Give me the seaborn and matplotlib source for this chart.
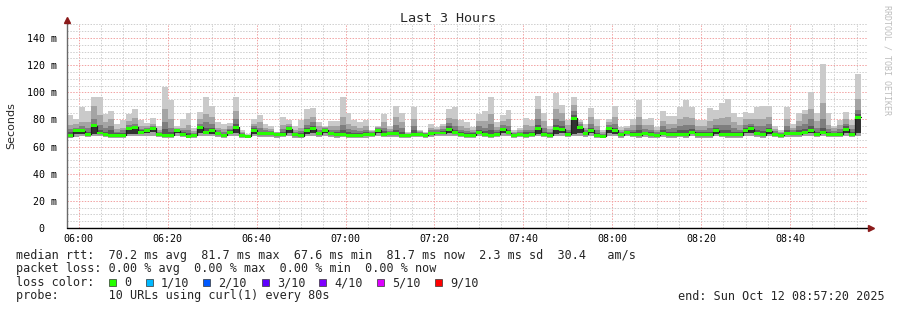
import numpy as np
import pandas as pd
import matplotlib
matplotlib.use("Agg")
import matplotlib.pyplot as plt
from matplotlib.patches import Rectangle
import seaborn as sns

# ---------------- data ----------------
STEP = 80  # seconds per column, window 05:57:20 - 08:57:20
time_labels = ["06:00", "06:20", "06:40", "07:00", "07:20", "07:40", "08:00", "08:20", "08:40"]
y_values = [0, 20, 40, 60, 80, 100, 120, 140]
y_labels = ["0  ", "20 m", "40 m", "60 m", "80 m", "100 m", "120 m", "140 m"]

median = [67.8,71.5,71.5,69,75.2,70,68.9,68.2,68.2,68.2, 73,74.2,70.7,72.2,73.5,69,68.2,68.2,71.7,69,
          67.6,68.5,74.2,70.7,72.2,69.5,68.2,70.7,74.2,68.5, 67.6,72.2,69.3,69.3,69.3,68.7,69,73,68.7,68,
          71.5,73.2,69.5,72.2,69.3,68.7,69,68.2,68.2,68.5, 69,69,72.2,69,69.5,69.5,68.5,68.5,69,69,
          68.5,69.5,70,70,72.7,70.2,69,68.5,68.5,70.5, 69,68.5,69,72.7,70.2,68.5,69,68.5,69,73.5,
          69,68.5,73.5,72.7,69,81,74,69.5,72.2,68.5, 67.6,73.5,72.2,68.8,70.2,69,68.8,69.8,68.8,68.3,
          69.8,68.8,68.8,69.2,68.8,70.5,68.8,68.8,68.8,71.5, 69.2,68.8,68.8,68.8,71.7,73,69.5,68.8,71.5,69.2,
          68.3,69.8,69.5,69.5,70.5,71.5,69.2,70.5,69.2,69.2, 69.2,72.7,69.2,81.7]
ping_max = [83.3,80,89,86,96.5,96.5,84,86,77,79.6, 84,88,79.6,77.6,80.8,75,104,94,75,80,
            84.5,73.5,85.7,96.3,90,78.3,77,77.5,96.3,72.2, 69,80,83.3,77,75,71,81.6,79.6,75,79.6,
            87.4,88.2,78.3,75,78.5,79,96.3,84.5,79.6,78, 79.6,72.5,75,84,75,90,84.5,70.5,89.4,72.2,
            71,77,74.7,77,87.4,89.4,79.6,78,74.7,84, 86.4,96.3,78,83,87,72.2,73.5,80.8,79.6,97.3,
            84.5,75,99.3,90.7,79.6,96.3,79.6,77,88.2,80, 72.2,80,90,74.7,75,80,94.3,80,80.8,74.7,
            86.4,82.4,82.4,89.4,94.3,89.4,79.6,79.6,88.2,87, 92.4,94.8,84.5,81.6,85.7,84.5,88.8,90,90,75,
            72.2,88.8,77,84.5,87,100.5,84.5,121,84.5,75.5, 79.6,85.7,79.6,113.4]
ping_9 = [76,77,78,78,90,83,78,80,73,74, 79,81,75,75,77,72,88,80,74,74,
          76,71.5,80,84,82,74,73,75,86,71, 68.5,77,78,74,73,70.5,76,77,72.5,74,
          80,82,75,74.2,75,75,82,77,75,74, 75,71.5,74.2,78,73,82,78,70,80,71.3,
          70.3,74,73,75,81,80,75,74,72.5,79, 79,84,74.5,79,80,71,72,76,75,88,
          79,73,88,85,76,91,78,74,82,75, 70.5,78,82,72.5,73.5,76,82,76,76,72,
          79,77,77,80,82,81,75,75.5,79,80, 81,82,78,76,80,80,80,80,82,73,
          70.8,80,74,79,84,88,79,92,76,73.5, 76,80,76,95]
ping_8 = [73,74,75,74,80,76,74,75,71,72, 76,77,73,74,75.5,70.5,78,74,73,72,
          72,70,77,78,77,72,71,73,80,70, 68.2,75,74,72,71.5,70,73,75.5,71,71.5,
          76,78,72.5,73.5,72.5,72,76,73,72,71.5, 72,70.5,73.5,74,71.5,76,74,69.5,75,70.5,
          69.8,72,72,73,77.5,75,72,71.5,71,75, 74,77,72,76,75,70,71,72.5,72,80,
          74,71,80,79,72.5,86,76.5,72,77,72, 69.5,76,77,71,72,72.5,76,73,72.5,70.5,
          75,73,73.5,75,76,76,72,72.5,74,76, 76,76,73.5,72.5,76,77,75,75,77,71.5,
          69.8,75,72,75,77,80,74,80,73,71.5, 73,77,73,87]
ping_7 = [71,73,73,71,77,72,71,72,70,70, 74,75.5,72,73,74.5,69.8,73,71,72.5,70.5,
          70,69.3,75.5,74,74,70.5,69.5,72,77,69.3, 68,73.5,71,70.5,70.5,69.3,71,74,69.8,69.8,
          73.5,75,71,72.8,71,70.5,72,70.5,70,70, 70.5,69.8,73,71.5,70.5,72.5,71,69,72,69.8,
          69.2,71,71,71.5,75,72.5,70.5,70,69.8,72.5, 71.5,72,70.5,74,72.5,69.2,70,70.5,70.5,76,
          71,69.8,76,75,70.5,83,75,70.5,74,70, 68.5,74.5,74,69.8,71,70.5,72,71,70.5,69.3,
          72,70.5,71,72,72,73,70.5,70.5,71,73.5, 72,72,71,70.5,73.5,75,72,71.5,74,70.3,
          69,72,70.5,72,73,75,71,74,71,70.3, 71,75,71,84]
ping_5 = [66.8,69,69,68,69,69,68,67.2,67.2,67.2, 69.5,69.5,69.5,70,70.5,68,67.2,67.2,70,68,
          66.8,67.5,70,69.5,69.5,68.5,67.2,69.5,70,67.5, 66.8,69.5,68.3,68.3,68.3,67.7,68,70,67.7,67,
          69.5,70,68.5,70,68.3,67.7,68,67.2,67.2,67.5, 68,68,70,68,68.5,68.5,67.5,67.5,68,68,
          67.5,68.5,69,69,70,69,68,67.5,67.5,69, 68,67.5,68,70,69,67.5,68,67.5,68,69.5,
          68,67.5,69.5,70,68,69,70,68.5,70,67.5, 66.8,70,69.5,67.8,69,68,67.8,68.8,67.8,67.3,
          68.8,67.8,67.8,68.2,67.8,69.2,67.8,67.8,67.8,69.5, 68.2,67.8,67.8,67.8,70,70,68.5,67.8,69.5,68.2,
          67.3,68.8,68.5,68.5,69.2,70,68.2,69.2,68.2,68.2, 68.2,70,68.2,70]
ping_min = [66.5,67,67.5,67,67.5,67.5,67,66,66.5,66.5, 67.5,67.5,67.5,68,68,67,66.5,66,68,67,
            66,66.5,68,67.5,67.5,67,66,67.5,68,66.5, 66,67.5,67,67,67,66.5,67,68,66.5,66,
            67.5,68,67,68,67,66.5,67,66.5,66,66.5, 66.5,67,68,67,67,67,66.5,66.5,67,67,
            66.5,67,67.5,67.5,68,67.5,67,66.5,66.5,67.5, 67,66.5,67,68,67.5,66,67,66.5,67,68,
            67,66.5,68,68,67,67.5,68,67,68,66.5, 66,68,67.5,66.5,67.5,67,66.5,67,66.5,66.5,
            67,66.5,66.5,67,66.5,67.5,66.5,66.5,66.5,67.5, 67,66.5,66.5,66.5,68,68,67,66.5,67.5,67,
            66.5,67,67,67,67.5,68,67,67.5,67,67, 67,68,67,68]

loss_labels = ["0", "1/10", "2/10", "3/10", "4/10", "5/10", "9/10"]
loss_colors = ["#26ff00", "#00b8ff", "#0059ff", "#5e00ff", "#7e00ff", "#dd00ff", "#ff0000"]

legend_lines = [
    "median rtt:  70.2 ms avg  81.7 ms max  67.6 ms min  81.7 ms now  2.3 ms sd  30.4   am/s",
    "packet loss: 0.00 % avg  0.00 % max  0.00 % min  0.00 % now",
    "loss color:",
    "probe:       10 URLs using curl(1) every 80s",
]

# ---------------- figure ----------------
sns.set_style("white")
plt.rcParams['font.family'] = ['DejaVu Sans Mono', 'DejaVu Sans']

W, H = 897, 310
fig = plt.figure(figsize=(W / 100, H / 100), dpi=100)
fig.patch.set_facecolor("white")
ymax = 150
top_px = 228 - ymax * 190 / 140
ax = fig.add_axes([67 / W, 1 - 228 / H, 800 / W, (228 - top_px) / H])
ax.set_xlim(0, 10800)
ax.set_ylim(0, ymax)
for s in ax.spines.values():
    s.set_visible(False)

n = len(median)
edges = np.arange(n + 1) * STEP
def ext(a):
    a = np.asarray(a, float)
    return np.r_[a, a[-1]]

# grid (dotted)
dash = (0, (1.44, 1.44))
first_tick = 160
for t in np.arange(first_tick - 0, 10800, 300):
    major = ((t - first_tick) % 1200) == 0
    ax.axvline(t, color="#f2a4a4" if major else "#cfcfcf", lw=0.72, ls=dash, zorder=1)
for v in np.arange(5, ymax + 1, 5):
    major = v % 20 == 0
    ax.axhline(v, color="#f2a4a4" if major else "#cfcfcf", lw=0.72, ls=dash, zorder=1)

# smoke layers
layers = [
    (ping_min, ping_max, "#cacaca"),
    (ping_min, ping_9, "#a4a4a4"),
    (ping_5, ping_8, "#7e7e7e"),
    (ping_5, ping_7, "#585858"),
    (ping_5, median, "#323232"),
]
for lo, hi, col in layers:
    ax.fill_between(edges, ext(lo), ext(hi), step="post", color=col, lw=0, zorder=2)

# median dark step line + green loss-colour band
df = pd.DataFrame({"t": edges, "median": ext(median)})
sns.lineplot(data=df, x="t", y="median", drawstyle="steps-post", color="#202020",
             lw=0.9, ax=ax, zorder=3)
med = ext(median)
ax.fill_between(edges, med - 1.1, med + 1.1, step="post", color=loss_colors[0], lw=0, zorder=4)

# axes lines and arrows
ax.plot([0, 0], [0, ymax + 2], color="#6a6a6a", lw=1.0, clip_on=False, zorder=6)
ax.plot([0, 10800 + 20], [0, 0], color="black", lw=1.0, clip_on=False, zorder=6)
ax.plot([0], [ymax + 3.5], marker="^", color="#8b1a1a", markersize=4, clip_on=False, zorder=7)
ax.plot([10800 + 50], [0], marker=">", color="#8b1a1a", markersize=4, clip_on=False, zorder=7)

ax.set_xticks(first_tick + 1200 * np.arange(len(time_labels)), time_labels)
ax.set_yticks(y_values, y_labels)
ax.tick_params(axis="both", length=0, labelsize=7.2, colors="black")
ax.tick_params(axis="x", pad=4)
ax.tick_params(axis="y", pad=7)
ax.set_xlabel("")
ax.set_ylabel("")

def fx(x):
    return x / W
def fy(y):
    return 1 - y / H

fig.text(fx(448), fy(19), "Last 3 Hours", ha="center", va="center", fontsize=9.6)
fig.text(fx(11), fy(126), "Seconds", rotation=90, ha="center", va="center",
         fontsize=8, family="DejaVu Sans")
fig.text(fx(887), fy(60), "RRDTOOL / TOBI OETIKER", rotation=270, ha="center", va="center",
         fontsize=6, color="#bdbdbd")

line_y = [255, 268.5, 282.5, 296]
for txt, yy in zip(legend_lines, line_y):
    fig.text(fx(16), fy(yy), txt, ha="left", va="center", fontsize=8.5)

box_x = [109, 145.7, 203, 261.7, 319, 376.7, 435]
lab_x = [124, 160.7, 218, 276.7, 334, 391.7, 450]
for lab, col, bx, lx in zip(loss_labels, loss_colors, box_x, lab_x):
    fig.patches.append(Rectangle((fx(bx), fy(286)), 7 / W, 7 / H, transform=fig.transFigure,
                                 facecolor=col, edgecolor="#333333", lw=0.5))
    fig.text(fx(lx), fy(282.5), lab, ha="left", va="center", fontsize=8.5)

fig.text(fx(677.5), fy(296), "end: Sun Oct 12 08:57:20 2025", ha="left", va="center", fontsize=8.5)

fig.savefig("out.png", dpi=100, facecolor="white")
